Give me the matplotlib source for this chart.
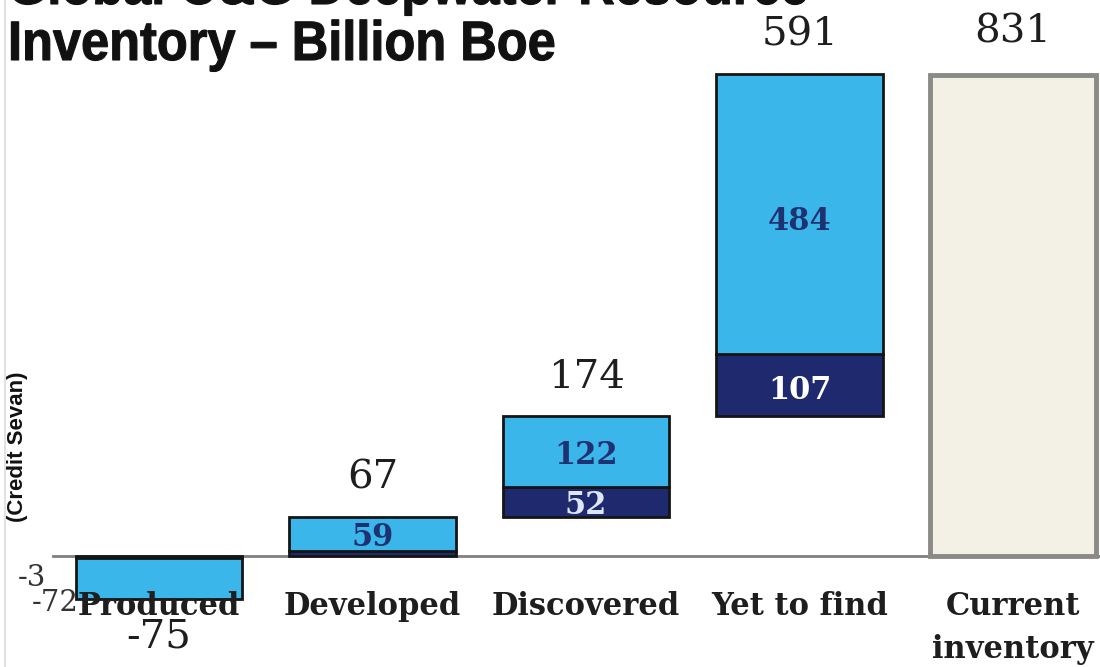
import matplotlib
matplotlib.use("Agg")
import matplotlib.pyplot as plt
from matplotlib.patheffects import AbstractPathEffect
from matplotlib.transforms import Affine2D

# Waterfall data (billion boe)
categories = ["Produced", "Developed", "Discovered", "Yet to find", "Current\ninventory"]
lower_part = [-3, 8, 52, 107]        # dark segment of each step
upper_part = [-72, 59, 122, 484]     # light segment of each step
step_totals = [-75, 67, 174, 591]
inventory_total = 831

LIGHT = "#3BB6EB"
DARK = "#1F2A6E"
EDGE = "#151515"
SERIF = "DejaVu Serif"
TXT = "#1E1E1E"


class Condense(AbstractPathEffect):
    """Squeeze glyphs horizontally about a fixed x position (display pixels),
    with an optional outline to make the strokes heavier."""

    def __init__(self, sx, x0, stroke=0.0):
        super().__init__()
        self.sx = sx
        self.x0 = x0
        self.stroke = stroke

    def draw_path(self, renderer, gc, tpath, affine, rgbFace=None):
        squeeze = Affine2D().translate(-self.x0, 0).scale(self.sx, 1).translate(self.x0, 0)
        tr = affine + squeeze
        if self.stroke > 0:
            gc0 = renderer.new_gc()
            gc0.copy_properties(gc)
            gc0.set_linewidth(self.stroke)
            gc0.set_foreground(rgbFace)
            gc0.set_joinstyle("miter")
            renderer.draw_path(gc0, tpath, tr, rgbFace)
            gc0.restore()
        else:
            renderer.draw_path(gc, tpath, tr, rgbFace)


W, H = 1100, 667
fig = plt.figure(figsize=(W / 100, H / 100), dpi=100)
ax = fig.add_axes([0, 0, 1, 1])
ax.set_xlim(-0.745, 4.407)
ax.set_ylim(-191.7, 960)
ax.axis("off")

width = 0.78
# running base for the positive steps; "Produced" hangs below zero
bases = [0]
running = 0
for t in step_totals[1:]:
    bases.append(running)
    running += t

for i in range(4):
    b = bases[i]
    lo, up = lower_part[i], upper_part[i]
    ax.bar(i, lo, bottom=b, width=width, color=DARK, edgecolor=EDGE, linewidth=2, zorder=3)
    ax.bar(i, up, bottom=b + lo, width=width, color=LIGHT, edgecolor=EDGE, linewidth=2, zorder=3)

ax.bar(4, inventory_total, width=width, color="#F3F0E5", edgecolor="#8A8A86", linewidth=3.5, zorder=3)

# zero line
ax.plot([-0.496, 4.407], [0, 0], color="#808080", linewidth=2, zorder=2)

# faint left border
fig.add_artist(plt.Line2D([5 / W, 5 / W], [0, 1], color="#E2E2E2", linewidth=1.5))

# totals above / below the bars
for i in range(1, 4):
    top = bases[i] + step_totals[i]
    ax.text(i, top + 68, f"{step_totals[i]}", ha="center", va="center", fontsize=29,
            family=SERIF, color=TXT, zorder=5)
ax.text(4, inventory_total + 73, f"{inventory_total}", ha="center", va="center", fontsize=29,
        family=SERIF, color=TXT, zorder=5)
ax.text(0, -140, f"{step_totals[0]}", ha="center", va="center", fontsize=29,
        family=SERIF, color=TXT, zorder=5)

# segment labels inside the bars
seg_kw = dict(ha="center", va="center", fontsize=22, family=SERIF, fontweight="bold", zorder=5)
ax.text(3, bases[3] + lower_part[3] + upper_part[3] / 2 - 13, f"{upper_part[3]}", color="#1E3170", **seg_kw)
ax.text(3, bases[3] + lower_part[3] / 2 - 8, f"{lower_part[3]}", color="white", **seg_kw)
ax.text(2, bases[2] + lower_part[2] + upper_part[2] / 2 - 7, f"{upper_part[2]}", color="#1E3170", **seg_kw)
ax.text(2, bases[2] + lower_part[2] / 2 - 6, f"{lower_part[2]}", color="#DCE6F5", **seg_kw)
ax.text(1, bases[1] + lower_part[1] + upper_part[1] / 2 - 5, f"{upper_part[1]}", color="#1E3170", **seg_kw)
side_kw = dict(ha="center", va="center", fontsize=21, family=SERIF, color="#333333")
ax.text(-0.595, -38, f"{lower_part[0]}", zorder=5, **side_kw)
ax.text(-0.487, -81, f"{upper_part[0]}", zorder=4, **side_kw)

# category labels
cat_kw = dict(ha="center", va="center", fontsize=22, family=SERIF, fontweight="bold", color=TXT, zorder=6)
for i, c in enumerate(categories):
    first = c.split("\n")
    ax.text(i, -88, first[0], **cat_kw)
    if len(first) > 1:
        ax.text(i, -162, first[1], **cat_kw)

# title and credit
x0 = 8
title_kw = dict(ha="left", va="baseline", fontsize=40, fontweight="bold",
                family="Liberation Sans", color="#111111",
                path_effects=[Condense(0.91, x0, stroke=0.8)])
fig.text(x0 / W, 1 - 4 / H, "Global O&G Deepwater Resource", **title_kw)
fig.text(x0 / W, 1 - 60 / H, "Inventory \u2013 Billion Boe", **title_kw)
fig.text(18 / W, 1 - 447 / H, "(Credit Sevan)", rotation=90, ha="center", va="center",
         fontsize=16, fontweight="bold", family="Liberation Sans", color="#111111")

fig.savefig("out.png", dpi=100, facecolor="white")
